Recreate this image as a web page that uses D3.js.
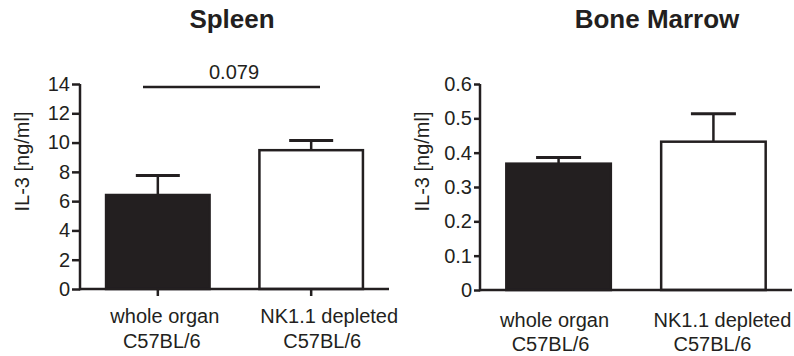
<!DOCTYPE html>
<html>
<head>
<meta charset="utf-8">
<script src="https://cdn.jsdelivr.net/npm/d3@7"></script>
<style>
  body { margin: 0; background: #fff; }
  svg { display: block; }
  text { font-family: "Liberation Sans", Arial, Helvetica, sans-serif; fill: #231f20; }
</style>
</head>
<body>
<svg id="chart" width="794" height="356"></svg>
<script>
// ---- data ----
const categories = ["whole organ|C57BL/6", "NK1.1 depleted|C57BL/6"];
const spleenMeans = [6.42, 9.48];
const spleenErrors = [1.33, 0.67];
const marrowMeans = [0.368, 0.432];
const marrowErrors = [0.018, 0.081];
const spleenTicks = [0, 2, 4, 6, 8, 10, 12, 14];
const marrowTicks = [0, 0.1, 0.2, 0.3, 0.4, 0.5, 0.6];
const barFills = ["#231f20", "#ffffff"];
const spleenPValue = "0.079";
const yAxisTitle = "IL-3 [ng/ml]";

const INK = "#231f20";
const svg = d3.select("#chart");

function drawPanel(opts) {
  const g = svg.append("g");
  const x = d3.scaleBand().domain(categories)
    .range([opts.x0, opts.x1]).paddingInner(0.325).paddingOuter(0.17);
  const y = d3.scaleLinear().domain(opts.domain).range([opts.yBottom, opts.yTop]);

  // title
  g.append("text").attr("x", opts.titleX).attr("y", 28)
    .attr("text-anchor", "middle").attr("font-size", 26).attr("font-weight", "bold")
    .text(opts.title);

  // y-axis title
  g.append("text")
    .attr("transform", `translate(${opts.yTitleX},161.5) rotate(-90)`)
    .attr("text-anchor", "middle").attr("font-size", 20)
    .text(yAxisTitle);

  const data = categories.map((c, i) => ({c, m: opts.means[i], e: opts.errors[i], fill: barFills[i]}));
  // error bars
  data.forEach(d => {
    const cx = x(d.c) + x.bandwidth() / 2;
    g.append("line").attr("x1", cx).attr("x2", cx)
      .attr("y1", y(d.m)).attr("y2", y(d.m + d.e))
      .attr("stroke", INK).attr("stroke-width", 2.5);
    g.append("line").attr("x1", cx - opts.capW / 2).attr("x2", cx + opts.capW / 2)
      .attr("y1", y(d.m + d.e)).attr("y2", y(d.m + d.e))
      .attr("stroke", INK).attr("stroke-width", 3);
  });
  // bars
  g.selectAll("rect.bar").data(data).enter().append("rect")
    .attr("class", "bar")
    .attr("x", d => x(d.c))
    .attr("width", x.bandwidth())
    .attr("y", d => y(d.m))
    .attr("height", d => y(0) - y(d.m))
    .attr("fill", d => d.fill)
    .attr("stroke", INK).attr("stroke-width", 2.5);

  // y axis
  const yAxis = d3.axisLeft(y).tickValues(opts.ticks)
    .tickFormat(opts.fmt).tickSizeOuter(0).tickSizeInner(opts.tickLen).tickPadding(2);
  const ya = g.append("g").attr("transform", `translate(${opts.x0},0)`).call(yAxis);
  ya.select(".domain").attr("stroke", INK).attr("stroke-width", 2.5)
    .attr("d", `M0,${y(0) + 1.25}V${opts.yTop}`);
  ya.selectAll(".tick line").attr("stroke", INK).attr("stroke-width", 2.5);
  ya.selectAll(".tick text").attr("font-size", 20)
    .style("font-family", '"Liberation Sans", Arial, sans-serif').attr("fill", INK);

  // x axis line
  g.append("line").attr("x1", opts.x0).attr("x2", opts.x1)
    .attr("y1", y(0)).attr("y2", y(0))
    .attr("stroke", INK).attr("stroke-width", 2.5);
  if (opts.xTicks) {
    categories.forEach(c => {
      const cx = x(c) + x.bandwidth() / 2;
      g.append("line").attr("x1", cx).attr("x2", cx)
        .attr("y1", y(0)).attr("y2", y(0) + 7)
        .attr("stroke", INK).attr("stroke-width", 2.5);
    });
  }
  // x labels
  categories.forEach((c, i) => {
    const cx = x(c) + x.bandwidth() / 2;
    const lines = c.split("|");
    lines.forEach((ln, j) => {
      g.append("text")
        .attr("x", cx + opts.labelShift[i][j])
        .attr("y", opts.labelY + j * opts.lineGap)
        .attr("text-anchor", "middle").attr("font-size", 20)
        .text(ln);
    });
  });
  return {g, x, y};
}

const left = drawPanel({
  x0: 80, x1: 389, yTop: 84, yBottom: 289, domain: [0, 14],
  ticks: spleenTicks, fmt: d3.format("d"), tickLen: 8,
  means: spleenMeans, errors: spleenErrors, capW: 44,
  title: "Spleen", titleX: 232, yTitleX: 29,
  xTicks: true, labelY: 323, lineGap: 25, labelShift: [[7, 4], [18, 11]]
});

const right = drawPanel({
  x0: 480, x1: 792, yTop: 84, yBottom: 290, domain: [0, 0.6],
  ticks: marrowTicks, fmt: d => d === 0 ? "0" : d3.format(".1f")(d), tickLen: 6,
  means: marrowMeans, errors: marrowErrors, capW: 45,
  title: "Bone Marrow", titleX: 657, yTitleX: 429,
  xTicks: false, labelY: 327, lineGap: 24, labelShift: [[-4, -8], [9, -1]]
});

// significance bracket (spleen)
const sigY = left.y(13.8);
left.g.append("line").attr("x1", 143).attr("x2", 320)
  .attr("y1", sigY).attr("y2", sigY)
  .attr("stroke", INK).attr("stroke-width", 2.5);
left.g.append("text").attr("x", 234).attr("y", sigY - 8)
  .attr("text-anchor", "middle").attr("font-size", 20).text(spleenPValue);
</script>
</body>
</html>
